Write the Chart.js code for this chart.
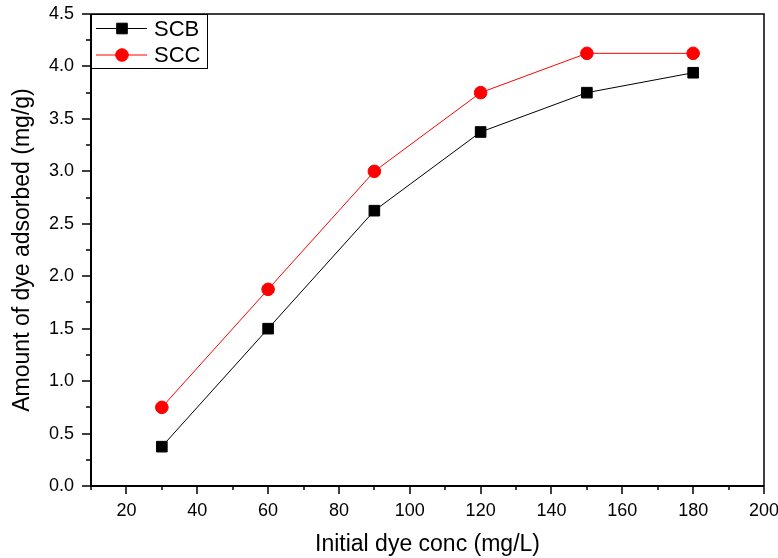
<!DOCTYPE html>
<html><head><meta charset="utf-8">
<script src="https://cdn.jsdelivr.net/npm/chart.js@4/dist/chart.umd.min.js"></script>
<style>html,body{margin:0;padding:0;background:#fff}#wrap{width:778px;height:558px}</style>
</head><body><div id="wrap"><canvas id="c" width="778" height="558"></canvas></div>
<script>
const concentrations = [30, 60, 90, 120, 150, 180];
const scbValues = [0.375, 1.5, 2.625, 3.375, 3.75, 3.94];
const sccValues = [0.75, 1.875, 3.0, 3.75, 4.125, 4.125];
const xTickValues = [20, 40, 60, 80, 100, 120, 140, 160, 180, 200];
const xMinorTicks = [10, 30, 50, 70, 90, 110, 130, 150, 170, 190];
const yTickValues = [0, 0.5, 1.0, 1.5, 2.0, 2.5, 3.0, 3.5, 4.0, 4.5];
const yMinorTicks = [0.25, 0.75, 1.25, 1.75, 2.25, 2.75, 3.25, 3.75, 4.25];
const xTitle = 'Initial dye conc (mg/L)';
const yTitle = 'Amount of dye adsorbed (mg/g)';
const FONT = "'Liberation Sans', Arial, sans-serif";

const framePlugin = {
  id: 'frame',
  beforeDatasetsDraw(chart) {
    const {ctx, chartArea: a, scales: {x, y}} = chart;
    ctx.save();
    ctx.strokeStyle = '#000';
    ctx.lineWidth = 1.5;
    ctx.beginPath();
    ctx.moveTo(a.left, a.top); ctx.lineTo(a.right, a.top); ctx.lineTo(a.right, a.bottom);
    ctx.stroke();
    ctx.lineWidth = 2;
    ctx.beginPath();
    ctx.moveTo(a.left, a.top); ctx.lineTo(a.left, a.bottom); ctx.lineTo(a.right, a.bottom);
    ctx.stroke();
    ctx.lineWidth = 1.5;
    ctx.beginPath();
    xTickValues.forEach(v => { const px = Math.round(x.getPixelForValue(v)); ctx.moveTo(px, a.bottom); ctx.lineTo(px, a.bottom + 8); });
    xMinorTicks.forEach(v => { const px = Math.round(x.getPixelForValue(v)); ctx.moveTo(px, a.bottom); ctx.lineTo(px, a.bottom + 4); });
    yTickValues.forEach(v => { const py = Math.round(y.getPixelForValue(v)); ctx.moveTo(a.left, py); ctx.lineTo(a.left - 9, py); });
    yMinorTicks.forEach(v => { const py = Math.round(y.getPixelForValue(v)); ctx.moveTo(a.left, py); ctx.lineTo(a.left - 5, py); });
    ctx.stroke();
    ctx.restore();
  },
  afterDraw(chart) {
    const {ctx, chartArea: a} = chart;
    ctx.save();
    const bx = a.left, by = a.top, bw = 116, bh = 54;
    ctx.strokeStyle = '#000';
    ctx.lineWidth = 1;
    ctx.strokeRect(bx + 0.5, by + 0.5, bw, bh);
    chart.data.datasets.forEach((ds, i) => {
      const cy = by + 14.5 + i * 26.5;
      ctx.strokeStyle = ds.borderColor;
      ctx.lineWidth = 1;
      ctx.beginPath(); ctx.moveTo(bx + 5, cy); ctx.lineTo(bx + 56, cy); ctx.stroke();
      ctx.fillStyle = ds.pointBackgroundColor;
      ctx.strokeStyle = ds.pointBorderColor;
      Chart.helpers.drawPoint(ctx, {pointStyle: ds.pointStyle, radius: ds.pointRadius, rotation: 0, borderWidth: 1}, bx + 31, cy);
      ctx.fillStyle = '#000';
      ctx.font = "22px " + FONT;
      ctx.textBaseline = 'middle';
      ctx.textAlign = 'left';
      ctx.fillText(ds.label, bx + 63, cy + 1);
    });
    ctx.restore();
  }
};

new Chart(document.getElementById('c'), {
  type: 'scatter',
  data: {
    datasets: [
      {
        label: 'SCB',
        data: concentrations.map((c, i) => ({x: c, y: scbValues[i]})),
        showLine: true,
        borderColor: '#000000',
        borderWidth: 1,
        pointStyle: 'rect',
        pointRadius: 7.5,
        pointBackgroundColor: '#000000',
        pointBorderColor: '#000000',
        pointBorderWidth: 1
      },
      {
        label: 'SCC',
        data: concentrations.map((c, i) => ({x: c, y: sccValues[i]})),
        showLine: true,
        borderColor: '#ff0000',
        borderWidth: 1,
        pointStyle: 'circle',
        pointRadius: 6.3,
        pointBackgroundColor: '#ff0000',
        pointBorderColor: '#ff0000',
        pointBorderWidth: 1
      }
    ]
  },
  options: {
    responsive: false,
    animation: false,
    devicePixelRatio: 1,
    layout: {padding: {top: 14, right: 14, left: 0, bottom: 0}},
    plugins: {legend: {display: false}, tooltip: {enabled: false}},
    scales: {
      x: {
        type: 'linear', min: 10, max: 200,
        afterBuildTicks: s => { s.ticks = xTickValues.map(v => ({value: v})); },
        afterFit: s => { s.height = 72; s.paddingLeft = 0; s.paddingRight = 0; },
        grid: {display: false, drawTicks: false},
        border: {display: false},
        ticks: {color: '#000', font: {family: FONT, size: 18}, padding: 14, maxRotation: 0, autoSkip: false},
        title: {display: true, text: xTitle, color: '#000', font: {family: FONT, size: 23}, padding: {top: 0, bottom: 0}}
      },
      y: {
        type: 'linear', min: 0, max: 4.5,
        afterBuildTicks: s => { s.ticks = yTickValues.map(v => ({value: v})); },
        afterFit: s => { s.width = 91; s.paddingTop = 0; s.paddingBottom = 0; },
        grid: {display: false, drawTicks: false},
        border: {display: false},
        ticks: {color: '#000', font: {family: FONT, size: 18}, padding: 17, autoSkip: false, callback: v => Number(v).toFixed(1)},
        title: {display: true, text: yTitle, color: '#000', font: {family: FONT, size: 23}, padding: {top: 9, bottom: 0}}
      }
    }
  },
  plugins: [framePlugin]
});
</script></body></html>
